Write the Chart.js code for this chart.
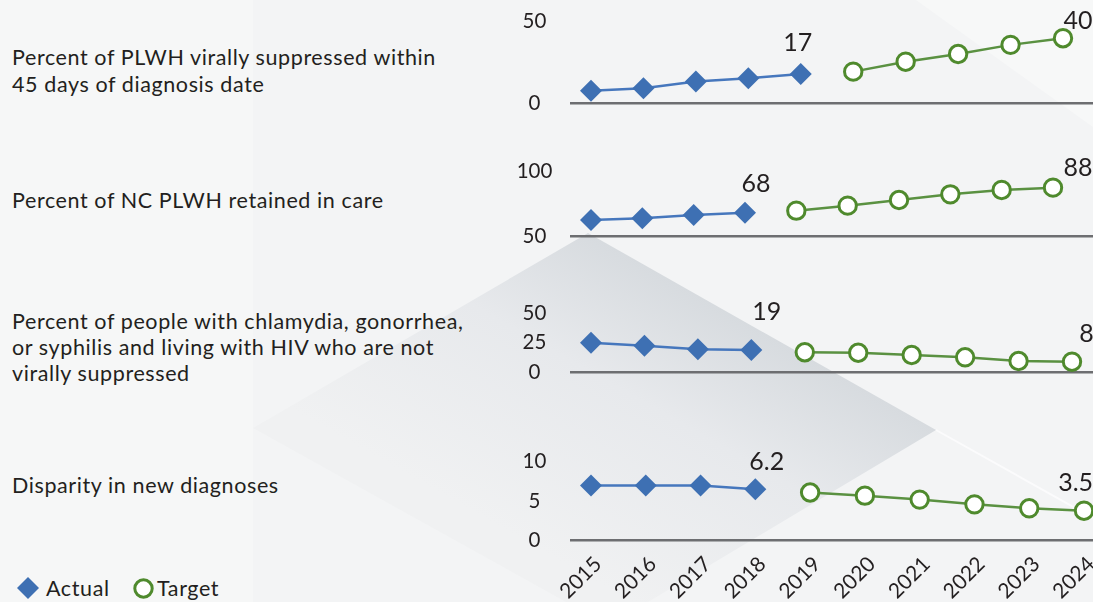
<!DOCTYPE html>
<html>
<head>
<meta charset="utf-8">
<script src="https://cdn.jsdelivr.net/npm/chart.js@4.4.1/dist/chart.umd.min.js"></script>
<style>
  html, body { margin: 0; padding: 0; }
  body { width: 1093px; height: 602px; position: relative; overflow: hidden; background: #f3f4f5;
         font-family: Lato, "Noto Sans", sans-serif; color: #231f20; }
  #bg { position: absolute; left: 0; top: 0; }
  .lab { position: absolute; left: 12px; font-size: 21.5px; letter-spacing: 0.6px; line-height: 27px; white-space: nowrap; }
  canvas { position: absolute; left: 0; }
  .leg { position: absolute; font-size: 21.5px; letter-spacing: 0.6px; line-height: 24px; }
</style>
</head>
<body>
<svg id="bg" width="1093" height="602">
  <defs>
    <linearGradient id="wedge" gradientUnits="userSpaceOnUse" x1="762" y1="331" x2="614" y2="592">
      <stop offset="0" stop-color="#d7dbdf"/>
      <stop offset="0.4" stop-color="#e7e9ec"/>
      <stop offset="1" stop-color="#f0f1f2"/>
    </linearGradient>
  </defs>
  <rect x="0" y="0" width="253" height="602" fill="#f6f7f7"/>
  <polygon points="916,0 1093,0 1093,127" fill="#f7f8f8"/>
  <polygon points="253,428 588,233 936,430 648,602 566,602" fill="url(#wedge)"/>
  <line x1="936" y1="430" x2="1093" y2="518" stroke="#fbfbfc" stroke-width="2"/>
</svg>

<div class="lab" id="t1" style="top:44px"></div>
<div class="lab" id="t2" style="top:187px"></div>
<div class="lab" id="t3" style="top:307.5px;line-height:26px"></div>
<div class="lab" id="t4" style="top:472px"></div>

<svg class="leg" style="left:16px;top:576px" width="24" height="24">
  <polygon points="12,1 23,12 12,23 1,12" fill="#3e70b3"/>
</svg>
<div class="leg" id="legA" style="left:46px;top:576px"></div>
<svg class="leg" style="left:132px;top:577px" width="24" height="24">
  <circle cx="11.5" cy="11.5" r="8.7" fill="#ffffff" stroke="#4f8a2d" stroke-width="3"/>
</svg>
<div class="leg" id="legT" style="left:157px;top:576px"></div>

<script>
var years = [2015, 2016, 2017, 2018, 2019, 2020, 2021, 2022, 2023, 2024];
var seriesNames = ["Actual", "Target"];

var titles = [
  ["Percent of PLWH virally suppressed within", "45 days of diagnosis date"],
  ["Percent of NC PLWH retained in care"],
  ["Percent of people with chlamydia, gonorrhea,", "or syphilis and living with HIV who are not", "virally suppressed"],
  ["Disparity in new diagnoses"]
];

// actual values start at 2015, target values run up to 2024
var actual1 = [7.7, 9.2, 13.3, 15.3, 18.0];
var target1 = [19.4, 25.5, 30.2, 35.8, 39.9];
var actual2 = [62.4, 63.8, 66.3, 68.1];
var target2 = [69.7, 73.6, 78.0, 82.4, 85.8, 87.6];
var actual3 = [25.1, 22.6, 19.6, 19.0];
var target3 = [17.1, 16.7, 14.8, 12.9, 9.8, 9.2];
var actual4 = [7.0, 7.0, 7.0, 6.5];
var target4 = [6.1, 5.7, 5.2, 4.6, 4.1, 3.8];

var yTicks1 = [0, 50];
var yTicks2 = [50, 100];
var yTicks3 = [0, 25, 50];
var yTicks4 = [0, 5, 10];

// value callouts at the end of each series
var callouts1 = ["17", "40"];
var callouts2 = ["68", "88"];
var callouts3 = ["19", "8"];
var callouts4 = ["6.2", "3.5"];

var FONT = "Lato, 'Noto Sans', sans-serif";
var INK = "#231f20";
var W = 1093, H = 602, plotLeft = 571, firstX = 591, labelCenter = 534.5, margin = 50;

titles.forEach(function(lines, i) {
  document.getElementById("t" + (i + 1)).innerHTML = lines.join("<br>");
});
document.getElementById("legA").textContent = seriesNames[0];
document.getElementById("legT").textContent = seriesNames[1];

var measureCtx = document.createElement("canvas").getContext("2d");
measureCtx.font = "20.5px " + FONT;

var calloutPlugin = {
  id: "callouts",
  afterDatasetsDraw: function(chart, args, opts) {
    var ctx = chart.ctx;
    ctx.save();
    ctx.font = "25px " + FONT;
    ctx.fillStyle = INK;
    ctx.textAlign = "center";
    ctx.textBaseline = "middle";
    chart.data.datasets.forEach(function(ds, i) {
      var pts = chart.getDatasetMeta(i).data;
      var p = pts[pts.length - 1];
      ctx.fillText(opts.texts[i], p.x + opts.offsets[i][0], p.y + opts.offsets[i][1]);
    });
    ctx.restore();
  }
};

function points(vals, fromEnd) {
  var yrs = fromEnd ? years.slice(years.length - vals.length) : years.slice(0, vals.length);
  return vals.map(function(v, i) { return {x: yrs[i], y: v}; });
}

// p.top / p.bottom: pixel rows of the highest tick and of the base line
function makePanel(p) {
  var top = Math.floor(p.top - margin);
  var bottom = p.showYears ? H : Math.ceil(p.bottom + margin);
  var canvas = document.createElement("canvas");
  canvas.width = W;
  canvas.height = bottom - top;
  canvas.style.top = top + "px";
  document.body.appendChild(canvas);

  var step = (p.lastX - firstX) / (years.length - 1);
  var widest = Math.max.apply(null, p.ticks.map(function(t) { return measureCtx.measureText(String(t)).width; }));
  var xHeight = p.showYears ? H - p.bottom : 0;

  new Chart(canvas, {
    type: "line",
    data: {
      datasets: [{
        label: seriesNames[0],
        data: points(p.actual, false),
        borderColor: "#4677bd",
        borderWidth: 2.5,
        pointStyle: "rectRot",
        pointRadius: 11,
        pointBackgroundColor: "#3e70b3",
        pointBorderWidth: 0,
        clip: false
      }, {
        label: seriesNames[1],
        data: points(p.target, true),
        borderColor: "#5a9141",
        borderWidth: 2.5,
        pointStyle: "circle",
        pointRadius: 8.7,
        pointBackgroundColor: "#ffffff",
        pointBorderColor: "#4f8a2d",
        pointBorderWidth: 3,
        clip: false
      }]
    },
    options: {
      responsive: false,
      animation: false,
      events: [],
      layout: {
        autoPadding: false,
        padding: { left: plotLeft - 60, right: 0, top: p.top - top, bottom: p.showYears ? 0 : bottom - p.bottom }
      },
      plugins: {
        legend: { display: false },
        tooltip: { enabled: false },
        callouts: { texts: p.callouts, offsets: p.offsets }
      },
      scales: {
        x: {
          type: "linear",
          min: years[0] - (firstX - plotLeft) / step,
          max: years[0] + (W - firstX) / step,
          grid: { display: false, drawTicks: false },
          border: { display: true, color: "#6d6e71", width: 2.5 },
          afterBuildTicks: function(axis) { axis.ticks = years.map(function(y) { return {value: y}; }); },
          afterFit: function(axis) {
            axis.height = xHeight;
            axis.paddingLeft = 0;
            axis.paddingRight = 0;
          },
          ticks: {
            display: p.showYears,
            autoSkip: false,
            minRotation: 45,
            maxRotation: 45,
            labelOffset: 7,
            padding: 11,
            color: INK,
            font: { family: FONT, size: 21 },
            callback: function(v) { return String(v); }
          }
        },
        y: {
          min: p.ticks[0],
          max: p.ticks[p.ticks.length - 1],
          grid: { display: false, drawTicks: false },
          border: { display: false },
          afterBuildTicks: function(axis) { axis.ticks = p.ticks.map(function(v) { return {value: v}; }); },
          afterFit: function(axis) { axis.width = 60; },
          ticks: {
            crossAlign: "center",
            padding: plotLeft - labelCenter - widest / 2,
            color: INK,
            font: { family: FONT, size: 20.5 }
          }
        }
      }
    },
    plugins: [calloutPlugin]
  });
}

makePanel({ top: 21.7, bottom: 103.3, showYears: false, lastX: 1063,
  actual: actual1, target: target1, ticks: yTicks1, callouts: callouts1, offsets: [[-3, -31], [15, -17]] });
makePanel({ top: 171.7, bottom: 236, showYears: false, lastX: 1053,
  actual: actual2, target: target2, ticks: yTicks2, callouts: callouts2, offsets: [[11, -29], [25, -20]] });
makePanel({ top: 313, bottom: 372.7, showYears: false, lastX: 1072,
  actual: actual3, target: target3, ticks: yTicks3, callouts: callouts3, offsets: [[15.5, -38], [14.5, -28]] });
makePanel({ top: 461.7, bottom: 540.7, showYears: true, lastX: 1084,
  actual: actual4, target: target4, ticks: yTicks4, callouts: callouts4, offsets: [[11.4, -27.3], [-8.4, -27.5]] });
</script>
</body>
</html>
